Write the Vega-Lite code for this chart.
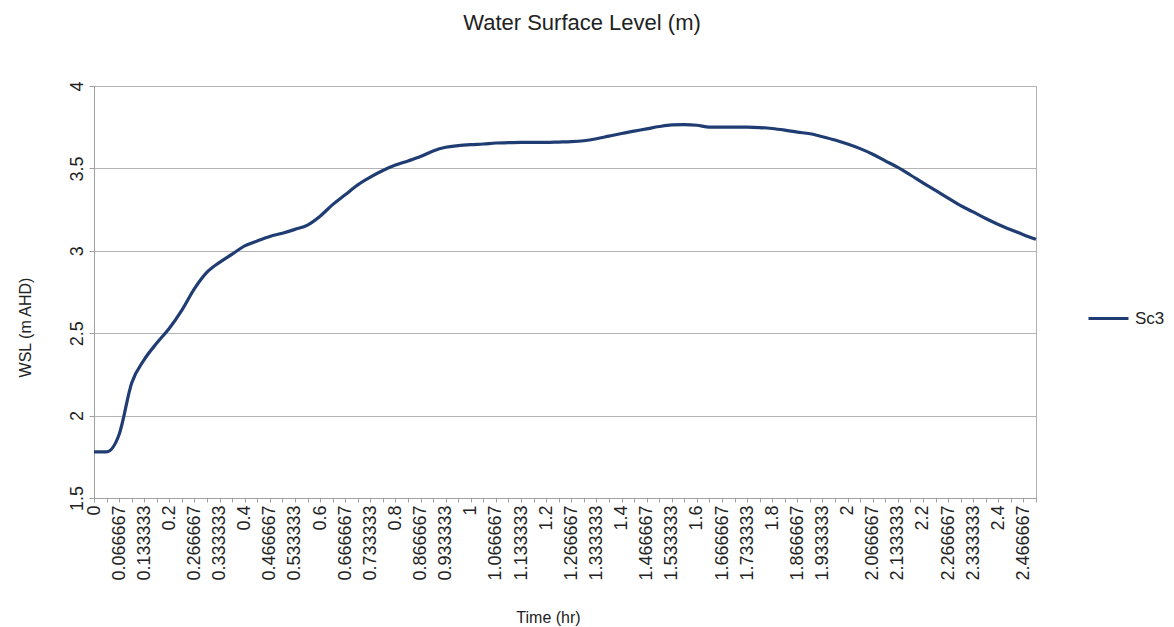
{
  "$schema": "https://vega.github.io/schema/vega-lite/v6.json",
  "autosize": {"type": "none"},
  "width": 942,
  "height": 412,
  "padding": {"left": 94, "top": 86, "right": 138, "bottom": 129},
  "background": "white",
  "config": {
    "font": "Liberation Sans",
    "view": {"stroke": "#b3b3b3", "strokeWidth": 1}
  },
  "title": {
    "text": "Water Surface Level (m)",
    "fontSize": 22,
    "fontWeight": "normal",
    "color": "#222222",
    "anchor": "middle",
    "dx": 17,
    "offset": 46
  },
  "data": {
    "values": [
      {"time": 0, "wsl": 1.78, "series": "Sc3"},
      {"time": 0.033333, "wsl": 1.78, "series": "Sc3"},
      {"time": 0.066667, "wsl": 1.885, "series": "Sc3"},
      {"time": 0.1, "wsl": 2.198, "series": "Sc3"},
      {"time": 0.133333, "wsl": 2.34, "series": "Sc3"},
      {"time": 0.166667, "wsl": 2.44, "series": "Sc3"},
      {"time": 0.2, "wsl": 2.53, "series": "Sc3"},
      {"time": 0.233333, "wsl": 2.64, "series": "Sc3"},
      {"time": 0.266667, "wsl": 2.77, "series": "Sc3"},
      {"time": 0.3, "wsl": 2.87, "series": "Sc3"},
      {"time": 0.333333, "wsl": 2.93, "series": "Sc3"},
      {"time": 0.366667, "wsl": 2.98, "series": "Sc3"},
      {"time": 0.4, "wsl": 3.03, "series": "Sc3"},
      {"time": 0.433333, "wsl": 3.06, "series": "Sc3"},
      {"time": 0.466667, "wsl": 3.087, "series": "Sc3"},
      {"time": 0.5, "wsl": 3.107, "series": "Sc3"},
      {"time": 0.533333, "wsl": 3.13, "series": "Sc3"},
      {"time": 0.566667, "wsl": 3.156, "series": "Sc3"},
      {"time": 0.6, "wsl": 3.21, "series": "Sc3"},
      {"time": 0.633333, "wsl": 3.28, "series": "Sc3"},
      {"time": 0.666667, "wsl": 3.34, "series": "Sc3"},
      {"time": 0.7, "wsl": 3.4, "series": "Sc3"},
      {"time": 0.733333, "wsl": 3.447, "series": "Sc3"},
      {"time": 0.766667, "wsl": 3.487, "series": "Sc3"},
      {"time": 0.8, "wsl": 3.52, "series": "Sc3"},
      {"time": 0.833333, "wsl": 3.545, "series": "Sc3"},
      {"time": 0.866667, "wsl": 3.572, "series": "Sc3"},
      {"time": 0.9, "wsl": 3.606, "series": "Sc3"},
      {"time": 0.933333, "wsl": 3.628, "series": "Sc3"},
      {"time": 0.966667, "wsl": 3.638, "series": "Sc3"},
      {"time": 1, "wsl": 3.644, "series": "Sc3"},
      {"time": 1.033333, "wsl": 3.648, "series": "Sc3"},
      {"time": 1.066667, "wsl": 3.654, "series": "Sc3"},
      {"time": 1.1, "wsl": 3.656, "series": "Sc3"},
      {"time": 1.133333, "wsl": 3.658, "series": "Sc3"},
      {"time": 1.166667, "wsl": 3.658, "series": "Sc3"},
      {"time": 1.2, "wsl": 3.658, "series": "Sc3"},
      {"time": 1.233333, "wsl": 3.66, "series": "Sc3"},
      {"time": 1.266667, "wsl": 3.662, "series": "Sc3"},
      {"time": 1.3, "wsl": 3.668, "series": "Sc3"},
      {"time": 1.333333, "wsl": 3.68, "series": "Sc3"},
      {"time": 1.366667, "wsl": 3.696, "series": "Sc3"},
      {"time": 1.4, "wsl": 3.712, "series": "Sc3"},
      {"time": 1.433333, "wsl": 3.726, "series": "Sc3"},
      {"time": 1.466667, "wsl": 3.74, "series": "Sc3"},
      {"time": 1.5, "wsl": 3.754, "series": "Sc3"},
      {"time": 1.533333, "wsl": 3.764, "series": "Sc3"},
      {"time": 1.566667, "wsl": 3.766, "series": "Sc3"},
      {"time": 1.6, "wsl": 3.762, "series": "Sc3"},
      {"time": 1.633333, "wsl": 3.75, "series": "Sc3"},
      {"time": 1.666667, "wsl": 3.75, "series": "Sc3"},
      {"time": 1.7, "wsl": 3.75, "series": "Sc3"},
      {"time": 1.733333, "wsl": 3.75, "series": "Sc3"},
      {"time": 1.766667, "wsl": 3.748, "series": "Sc3"},
      {"time": 1.8, "wsl": 3.742, "series": "Sc3"},
      {"time": 1.833333, "wsl": 3.732, "series": "Sc3"},
      {"time": 1.866667, "wsl": 3.72, "series": "Sc3"},
      {"time": 1.9, "wsl": 3.71, "series": "Sc3"},
      {"time": 1.933333, "wsl": 3.692, "series": "Sc3"},
      {"time": 1.966667, "wsl": 3.672, "series": "Sc3"},
      {"time": 2, "wsl": 3.648, "series": "Sc3"},
      {"time": 2.033333, "wsl": 3.62, "series": "Sc3"},
      {"time": 2.066667, "wsl": 3.586, "series": "Sc3"},
      {"time": 2.1, "wsl": 3.546, "series": "Sc3"},
      {"time": 2.133333, "wsl": 3.506, "series": "Sc3"},
      {"time": 2.166667, "wsl": 3.46, "series": "Sc3"},
      {"time": 2.2, "wsl": 3.412, "series": "Sc3"},
      {"time": 2.233333, "wsl": 3.366, "series": "Sc3"},
      {"time": 2.266667, "wsl": 3.32, "series": "Sc3"},
      {"time": 2.3, "wsl": 3.274, "series": "Sc3"},
      {"time": 2.333333, "wsl": 3.236, "series": "Sc3"},
      {"time": 2.366667, "wsl": 3.196, "series": "Sc3"},
      {"time": 2.4, "wsl": 3.16, "series": "Sc3"},
      {"time": 2.433333, "wsl": 3.128, "series": "Sc3"},
      {"time": 2.466667, "wsl": 3.098, "series": "Sc3"},
      {"time": 2.5, "wsl": 3.07, "series": "Sc3"}
    ]
  },
  "mark": {"type": "line", "strokeWidth": 3.2, "interpolate": "monotone"},
  "encoding": {
    "x": {
      "field": "time",
      "type": "quantitative",
      "scale": {"domain": [0, 2.5], "nice": false, "zero": false},
      "axis": {
        "title": "Time (hr)",
        "titleFontSize": 16,
        "titleFontWeight": "normal",
        "titleColor": "#222222",
        "titleX": 454,
        "titleY": 119,
        "titleBaseline": "middle",
        "titleAlign": "center",
        "values": [0, 0.0333333, 0.0666667, 0.1, 0.1333333, 0.1666667, 0.2, 0.2333333, 0.2666667, 0.3, 0.3333333, 0.3666667, 0.4, 0.4333333, 0.4666667, 0.5, 0.5333333, 0.5666667, 0.6, 0.6333333, 0.6666667, 0.7, 0.7333333, 0.7666667, 0.8, 0.8333333, 0.8666667, 0.9, 0.9333333, 0.9666667, 1, 1.0333333, 1.0666667, 1.1, 1.1333333, 1.1666667, 1.2, 1.2333333, 1.2666667, 1.3, 1.3333333, 1.3666667, 1.4, 1.4333333, 1.4666667, 1.5, 1.5333333, 1.5666667, 1.6, 1.6333333, 1.6666667, 1.7, 1.7333333, 1.7666667, 1.8, 1.8333333, 1.8666667, 1.9, 1.9333333, 1.9666667, 2, 2.0333333, 2.0666667, 2.1, 2.1333333, 2.1666667, 2.2, 2.2333333, 2.2666667, 2.3, 2.3333333, 2.3666667, 2.4, 2.4333333, 2.4666667, 2.5],
        "labelExpr": "round(datum.value * 30) % 2 == 0 && datum.value < 2.49 ? format(datum.value, '.6~f') : ''",
        "labelAngle": -90,
        "labelAlign": "right",
        "labelBaseline": "middle",
        "labelFontSize": 18,
        "labelColor": "#222222",
        "labelPadding": 3,
        "labelOverlap": false,
        "labelBound": false,
        "labelFlush": false,
        "tickSize": 4,
        "tickColor": "#a0a0a0",
        "domainColor": "#a0a0a0",
        "grid": false
      }
    },
    "y": {
      "field": "wsl",
      "type": "quantitative",
      "scale": {"domain": [1.5, 4], "nice": false, "zero": false},
      "axis": {
        "title": "WSL (m AHD)",
        "titleFontSize": 16,
        "titleFontWeight": "normal",
        "titleColor": "#222222",
        "titleAngle": -90,
        "titleX": -69,
        "titleY": 241,
        "titleBaseline": "middle",
        "titleAlign": "center",
        "values": [1.5, 2, 2.5, 3, 3.5, 4],
        "labelExpr": "format(datum.value, '~g')",
        "labelAngle": -90,
        "labelAlign": "center",
        "labelBaseline": "bottom",
        "labelFontSize": 18,
        "labelColor": "#222222",
        "labelPadding": 3,
        "labelFlush": false,
        "labelOverlap": false,
        "tickSize": 5,
        "tickColor": "#a0a0a0",
        "domainColor": "#a0a0a0",
        "grid": true,
        "gridColor": "#b3b3b3"
      }
    },
    "color": {
      "field": "series",
      "type": "nominal",
      "scale": {"range": ["#203d73"]},
      "legend": {
        "title": null,
        "orient": "none",
        "legendX": 993,
        "legendY": 211,
        "symbolType": "stroke",
        "symbolSize": 1600,
        "symbolStrokeWidth": 3,
        "labelFontSize": 17,
        "labelColor": "#222222",
        "labelOffset": 5
      }
    }
  }
}
